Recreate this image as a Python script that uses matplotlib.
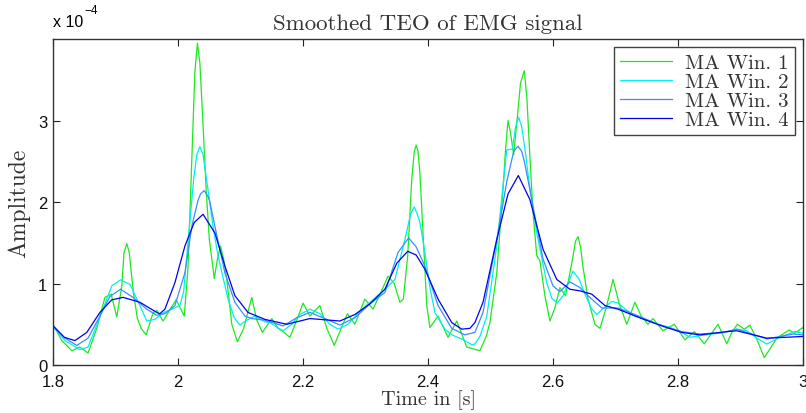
import matplotlib.pyplot as plt

# Time axis [s] and amplitudes (units of 1e-4)
t_win1 = [1.800, 1.814, 1.830, 1.843, 1.856, 1.870, 1.883, 1.893, 1.902, 1.910,
          1.9136, 1.918, 1.922, 1.9285, 1.935, 1.941, 1.949, 1.960, 1.966, 1.976,
          1.987, 1.997, 2.010, 2.016, 2.022, 2.027, 2.031, 2.035, 2.040, 2.045,
          2.050, 2.058, 2.063, 2.068, 2.073, 2.078, 2.086, 2.095, 2.105, 2.118,
          2.126, 2.135, 2.150, 2.160, 2.168, 2.179, 2.190, 2.200, 2.211, 2.227,
          2.238, 2.250, 2.261, 2.271, 2.283, 2.299, 2.312, 2.325, 2.336, 2.346,
          2.355, 2.3605, 2.3675, 2.374, 2.378, 2.381, 2.384, 2.387, 2.3925, 2.398,
          2.403, 2.416, 2.432, 2.446, 2.462, 2.472, 2.483, 2.493, 2.499, 2.510,
          2.520, 2.524, 2.528, 2.532, 2.537, 2.543, 2.548, 2.554, 2.558, 2.563,
          2.568, 2.574, 2.579, 2.587, 2.595, 2.603, 2.611, 2.620, 2.630, 2.636,
          2.640, 2.644, 2.648, 2.656, 2.667, 2.675, 2.685, 2.696, 2.706, 2.718,
          2.731, 2.741, 2.752, 2.760, 2.776, 2.794, 2.811, 2.826, 2.842, 2.853,
          2.864, 2.878, 2.886, 2.895, 2.906, 2.915, 2.927, 2.938, 2.949, 2.958,
          2.978, 2.986, 3.000]
win1 = [0.50, 0.30, 0.175, 0.22, 0.147, 0.45, 0.83, 0.87, 0.59, 0.97,
        1.38, 1.49, 1.38, 0.89, 0.57, 0.45, 0.37, 0.64, 0.67, 0.54,
        0.68, 0.80, 0.60, 1.20, 2.50, 3.60, 3.95, 3.70, 2.95, 2.15,
        1.55, 1.06, 1.30, 1.46, 1.30, 1.05, 0.50, 0.285, 0.45, 0.83,
        0.55, 0.40, 0.57, 0.45, 0.41, 0.34, 0.55, 0.76, 0.60, 0.73,
        0.45, 0.24, 0.45, 0.63, 0.50, 0.81, 0.685, 0.90, 1.09, 1.00,
        0.77, 0.81, 1.34, 2.28, 2.62, 2.70, 2.62, 2.36, 1.54, 0.73,
        0.46, 0.60, 0.34, 0.54, 0.22, 0.20, 0.175, 0.35, 0.52, 1.13,
        2.15, 2.64, 3.00, 2.85, 2.58, 3.05, 3.46, 3.61, 3.30, 2.56,
        1.87, 1.34, 1.28, 0.85, 0.54, 0.70, 0.95, 0.85, 1.25, 1.52,
        1.575, 1.45, 1.20, 0.81, 0.50, 0.45, 0.70, 1.05, 0.75, 0.50,
        0.77, 0.60, 0.50, 0.57, 0.42, 0.50, 0.31, 0.41, 0.26, 0.38,
        0.50, 0.26, 0.40, 0.50, 0.44, 0.49, 0.30, 0.09, 0.22, 0.33,
        0.43, 0.39, 0.46]

t_win2 = [1.800, 1.819, 1.843, 1.856, 1.875, 1.894, 1.908, 1.923, 1.939, 1.950,
          1.963, 1.976, 1.990, 2.003, 2.009, 2.014, 2.020, 2.025, 2.030, 2.035,
          2.040, 2.048, 2.056, 2.064, 2.080, 2.090, 2.099, 2.110, 2.123, 2.139,
          2.147, 2.168, 2.182, 2.195, 2.211, 2.227, 2.243, 2.256, 2.272, 2.291,
          2.307, 2.331, 2.347, 2.363, 2.372, 2.378, 2.383, 2.387, 2.395, 2.403,
          2.411, 2.427, 2.438, 2.454, 2.470, 2.475, 2.483, 2.494, 2.510, 2.526,
          2.535, 2.540, 2.545, 2.550, 2.556, 2.561, 2.574, 2.590, 2.598, 2.607,
          2.616, 2.632, 2.642, 2.651, 2.661, 2.670, 2.681, 2.694, 2.704, 2.715,
          2.731, 2.747, 2.768, 2.787, 2.806, 2.819, 2.835, 2.854, 2.874, 2.894,
          2.910, 2.926, 2.942, 2.963, 2.987, 3.000]
win2 = [0.47, 0.30, 0.19, 0.22, 0.59, 0.97, 1.045, 0.99, 0.73, 0.54,
        0.56, 0.64, 0.685, 0.73, 0.90, 1.34, 1.85, 2.28, 2.58, 2.68,
        2.58, 2.15, 1.70, 1.34, 0.81, 0.58, 0.49, 0.55, 0.60, 0.53,
        0.52, 0.42, 0.50, 0.62, 0.685, 0.63, 0.50, 0.44, 0.50, 0.66,
        0.77, 0.93, 1.05, 1.54, 1.85, 1.94, 1.85, 1.75, 1.38, 0.95,
        0.645, 0.44, 0.37, 0.32, 0.25, 0.257, 0.35, 0.60, 1.46, 2.64,
        2.65, 2.92, 3.04, 2.92, 2.60, 2.28, 1.62, 1.01, 0.82, 0.76,
        0.85, 1.15, 1.05, 0.87, 0.70, 0.62, 0.70, 0.78, 0.76, 0.69,
        0.60, 0.56, 0.50, 0.46, 0.40, 0.34, 0.36, 0.38, 0.40, 0.44,
        0.42, 0.33, 0.257, 0.34, 0.41, 0.39]

t_win3 = [1.800, 1.819, 1.838, 1.856, 1.875, 1.891, 1.908, 1.928, 1.950, 1.966,
          1.979, 1.995, 2.011, 2.022, 2.032, 2.036, 2.042, 2.048, 2.051, 2.059,
          2.075, 2.091, 2.107, 2.118, 2.139, 2.168, 2.190, 2.211, 2.235, 2.259,
          2.283, 2.307, 2.331, 2.352, 2.369, 2.381, 2.395, 2.416, 2.438, 2.459,
          2.475, 2.488, 2.510, 2.526, 2.537, 2.544, 2.550, 2.554, 2.563, 2.584,
          2.600, 2.611, 2.627, 2.643, 2.656, 2.678, 2.704, 2.731, 2.768, 2.806,
          2.835, 2.873, 2.894, 2.942, 2.984, 3.000]
win3 = [0.48, 0.33, 0.24, 0.33, 0.60, 0.84, 0.93, 0.83, 0.685, 0.61,
        0.63, 0.73, 1.13, 1.70, 2.02, 2.10, 2.14, 2.07, 2.00, 1.70,
        1.13, 0.77, 0.60, 0.57, 0.55, 0.48, 0.58, 0.645, 0.57, 0.49,
        0.58, 0.75, 0.89, 1.38, 1.56, 1.45, 1.215, 0.73, 0.45, 0.37,
        0.40, 0.645, 1.54, 2.25, 2.62, 2.685, 2.62, 2.50, 2.15, 1.30,
        0.97, 0.90, 1.02, 0.95, 0.85, 0.70, 0.70, 0.62, 0.50, 0.41,
        0.38, 0.40, 0.44, 0.32, 0.38, 0.37]

t_win4 = [1.800, 1.818, 1.835, 1.854, 1.875, 1.894, 1.912, 1.939, 1.966, 1.971,
          1.979, 1.995, 2.011, 2.026, 2.040, 2.059, 2.075, 2.091, 2.112, 2.139,
          2.174, 2.211, 2.259, 2.283, 2.307, 2.331, 2.350, 2.3675, 2.381, 2.395,
          2.416, 2.438, 2.454, 2.467, 2.475, 2.488, 2.510, 2.528, 2.5445, 2.563,
          2.584, 2.606, 2.627, 2.643, 2.662, 2.683, 2.704, 2.742, 2.774, 2.806,
          2.835, 2.878, 2.894, 2.942, 3.000]
win4 = [0.48, 0.34, 0.30, 0.40, 0.645, 0.80, 0.83, 0.77, 0.645, 0.63,
        0.685, 1.01, 1.46, 1.75, 1.85, 1.62, 1.215, 0.85, 0.645, 0.56,
        0.50, 0.57, 0.54, 0.62, 0.75, 0.93, 1.25, 1.395, 1.35, 1.175,
        0.81, 0.52, 0.44, 0.45, 0.52, 0.77, 1.54, 2.10, 2.325, 2.03,
        1.42, 1.05, 0.93, 0.91, 0.87, 0.73, 0.685, 0.57, 0.48, 0.40,
        0.37, 0.41, 0.42, 0.33, 0.35]

labels = ['MA Win. 1', 'MA Win. 2', 'MA Win. 3', 'MA Win. 4']
colors = ['#1ee81e', '#00eeee', '#3b8cff', '#0000f0']
x_ticks = [1.8, 2.0, 2.2, 2.4, 2.6, 2.8, 3.0]
x_ticklabels = ['1.8', '2', '2.2', '2.4', '2.6', '2.8', '3']
y_ticks = [0, 1, 2, 3]

serif = 'cmr10'
sans = 'Liberation Sans'

fig = plt.figure(figsize=(8.06, 4.14), dpi=100)
ax = fig.add_axes([0.0658, 0.1159, 0.9305, 0.7874])

series = [(t_win1, win1), (t_win2, win2), (t_win3, win3), (t_win4, win4)]
for (t, y), lab, c in zip(series, labels, colors):
    ax.plot(t, y, color=c, lw=0.9, label=lab, solid_joinstyle='round')

ax.set_xlim(1.8, 3.0)
ax.set_ylim(0, 4)
ax.set_xticks(x_ticks)
ax.set_xticklabels(x_ticklabels, fontfamily=sans, fontsize=12)
ax.set_yticks(y_ticks)
ax.set_yticklabels([str(v) for v in y_ticks], fontfamily=sans, fontsize=12)
ax.tick_params(direction='in', length=5, width=0.8, top=True, right=True,
               color='#222222', labelcolor='#111111')
ax.tick_params(axis='x', pad=6.5)
ax.tick_params(axis='y', pad=4)
for s in ax.spines.values():
    s.set_color('#333333')
    s.set_linewidth(1.0)

ax.set_title('Smoothed TEO of EMG signal', fontfamily=serif, fontsize=16.5,
             color='#333333', pad=7)
ax.set_xlabel('Time in [s]', fontfamily=serif, fontsize=14.5, color='#333333')
ax.xaxis.set_label_coords(0.5, -0.074)
ax.set_ylabel('Amplitude', fontfamily=serif, fontsize=17, color='#333333')
ax.yaxis.set_label_coords(-0.031, 0.5)

# MATLAB style exponent label above the y axis
ax.text(0.0, 1.03, 'x 10', transform=ax.transAxes, fontfamily=sans,
        fontsize=11.5, va='bottom', ha='left')
ax.text(0.042, 1.07, '\u22124', transform=ax.transAxes, fontfamily=sans,
        fontsize=8.5, va='bottom', ha='left')

leg = ax.legend(loc='upper right', prop={'family': serif, 'size': 15},
                frameon=True, fancybox=False, borderpad=0.3, labelspacing=0.02,
                handlelength=2.5, handletextpad=0.6, borderaxespad=0.4)
leg.get_frame().set_edgecolor('#111111')
leg.get_frame().set_linewidth(1.0)
for txt in leg.get_texts():
    txt.set_color('#333333')

fig.savefig('out.png', dpi=100)
